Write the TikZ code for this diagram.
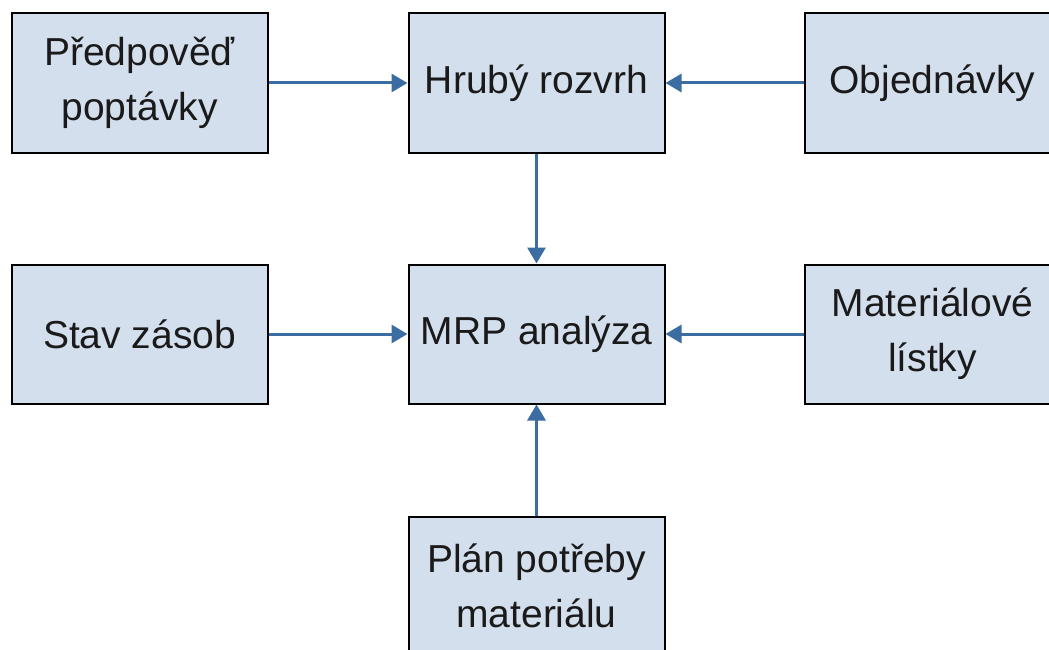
\documentclass[tikz,border=0pt]{standalone}
\usepackage{fontspec}
\setmainfont{Liberation Sans}
\usetikzlibrary{arrows.meta}
\definecolor{boxfill}{RGB}{212,223,238}
\definecolor{linkblue}{RGB}{59,108,162}
\definecolor{textdark}{RGB}{26,26,26}
\begin{document}
\begin{tikzpicture}[x=1pt,y=1pt,
  stagebox/.style={draw=black, line width=2pt, fill=boxfill, rectangle,
    minimum width=256pt, minimum height=139pt, inner sep=0pt,
    align=center, text=textdark,
    font=\fontsize{39}{55}\selectfont},
  flow/.style={draw=linkblue, line width=3pt,
    -{Triangle[length=16pt,width=18pt]}}]
  \useasboundingbox (0,0) rectangle (1049,-650);
  % top row
  \node[stagebox] (forecast) at (139.5,-83) {Předpověď\\poptávky};
  \node[stagebox] (rough)    at (536.5,-83) {Hrubý rozvrh};
  \node[stagebox] (orders)   at (932.5,-83) {Objednávky};
  % middle row
  \node[stagebox] (stock)    at (139.5,-334) {Stav zásob};
  \node[stagebox] (mrp)      at (536.5,-334) {MRP analýza};
  \node[stagebox] (bom)      at (932.5,-334) {Materiálové\\lístky};
  % bottom
  \node[stagebox] (plan)     at (536.5,-586) {Plán potřeby\\materiálu};
  % connectors
  \draw[flow] (forecast) -- (rough);
  \draw[flow] (orders) -- (rough);
  \draw[flow] (rough) -- (mrp);
  \draw[flow] (stock) -- (mrp);
  \draw[flow] (bom) -- (mrp);
  \draw[flow] (plan) -- (mrp);
\end{tikzpicture}
\end{document}
